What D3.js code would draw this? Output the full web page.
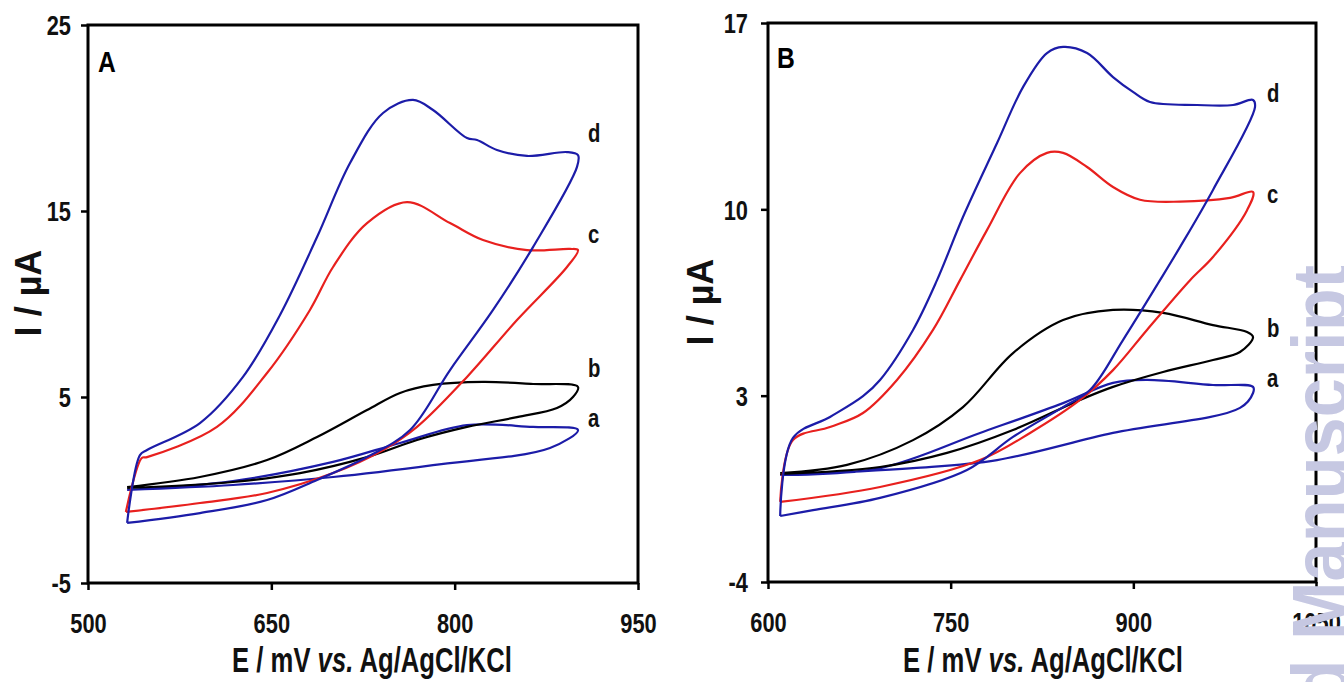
<!DOCTYPE html>
<html>
<head>
<meta charset="utf-8">
<script src="https://cdn.jsdelivr.net/npm/d3@7"></script>
<style>
  html, body { margin: 0; padding: 0; background: #fff; }
  svg { display: block; font-family: "Liberation Sans", Arial, Helvetica, sans-serif; }
</style>
</head>
<body>
<svg id="chart" width="1344" height="682"></svg>
<script>
// ---- Axis ticks (E in mV, I in µA) ----
const E_TICKS_A = [500, 650, 800, 950];
const I_TICKS_A = [-5, 5, 15, 25];
const E_TICKS_B = [600, 750, 900, 1050];
const I_TICKS_B = [-4, 3, 10, 17];

// ---- Cyclic voltammograms, panel A: [E (mV), I (µA)] around each closed loop ----
const CV_A_a = [[532,0.0],[618.6,0.48],[700.5,1.51],[755.3,2.53],[810.1,3.49],[864.1,3.39],[900.9,3.23],
  [878,2.26],[782.3,1.34],[700.5,0.70],[618.6,0.27],[532,0.0]];
const CV_A_b = [[532,0.16],[591.6,0.70],[646.5,1.61],[687.4,2.85],[728.3,4.30],[755.3,5.22],[782.3,5.65],
  [823.2,5.81],[864.1,5.70],[900.9,5.54],[896.8,5.0],[883.7,4.41],[851,3.92],[810.1,3.39],[769.2,2.69],
  [728.3,1.77],[673.5,0.91],[618.6,0.43],[532,0.11]];
const CV_A_c = [[531,-1.18],[544,1.72],[548.3,1.77],[605.5,3.39],[646.5,6.29],[681.6,9.68],[700.5,11.99],
  [728.3,14.35],[761,15.48],[796.2,14.35],[823.2,13.44],[859.2,12.9],[894.4,12.96],[900.9,12.9],
  [891.9,11.99],[851,9.14],[810.1,6.08],[769.2,3.39],[741.4,2.15],[700.5,0.91],[646.5,-0.16],
  [591.6,-0.70],[531,-1.18]];
const CV_A_d = [[532,-1.77],[542.5,1.88],[548.3,2.15],[591.6,3.60],[626.8,6.08],[657.1,9.41],[687.4,13.6],
  [714.4,17.58],[741.4,20.27],[765.9,20.97],[782.3,20.43],[810.1,18.92],[818.3,18.82],[834.6,18.28],
  [859.2,17.96],[891.9,18.17],[900.9,18.01],[900.1,17.37],[864.1,13.06],[831.4,9.68],[796.2,6.45],
  [763.5,3.23],[728.3,1.77],[687.4,0.54],[646.5,-0.54],[591.6,-1.24],[532,-1.77]];

// ---- Cyclic voltammograms, panel B ----
const CV_B_a = [[610,0.02],[692,0.28],[774.1,1.60],[842.3,2.72],[883.3,3.48],[911.2,3.59],[965.4,3.40],
  [998.3,3.33],[998.3,3.10],[987.6,2.54],[883.3,1.60],[788.1,0.58],[719.1,0.28],[610,0.02]];
const CV_B_b = [[610,0.09],[664.9,0.40],[719.1,1.33],[760.1,2.57],[801.2,4.60],[842.3,5.84],[883.3,6.22],
  [924.4,6.11],[965.4,5.65],[993.4,5.39],[998.3,5.20],[987.6,4.64],[965.4,4.34],[924.4,3.89],[883.3,3.33],
  [856.2,2.84],[801.2,1.71],[747,0.85],[692,0.32],[610,0.06]];
const CV_B_c = [[610,-0.99],[620.5,1.33],[650.9,1.82],[678,2.35],[705.9,3.59],[735.5,5.47],[757.7,7.34],
  [779.8,9.22],[806.9,11.36],[829.1,12.12],[842.3,12.12],[862,11.59],[883.3,10.84],[905.5,10.36],
  [938.3,10.29],[979.4,10.43],[998.3,10.65],[993.4,9.97],[965.4,8.21],[946.6,7.34],[911.2,5.47],
  [883.3,3.96],[856.2,2.84],[815.2,1.60],[774.1,0.58],[692,-0.43],[610,-0.99]];
const CV_B_d = [[610,-1.52],[620.5,1.41],[650.9,2.20],[678,2.98],[692,3.59],[719.1,5.47],[738.8,7.34],
  [760.1,9.71],[788.1,12.49],[809.4,14.59],[829.1,15.87],[842.3,16.10],[862,15.87],[883.3,14.97],
  [899.7,14.41],[913.7,14.03],[952.3,13.92],[981.9,13.92],[998.3,14.11],[999.9,13.84],[965.4,10.73],
  [938.3,8.58],[921.9,7.34],[891.5,5.09],[864.4,3.21],[842.3,2.57],[801.2,1.45],[763.4,0.21],
  [692,-0.84],[637,-1.30],[610,-1.52]];

const CURVE_NAMES = ["a", "b", "c", "d"];
const CURVE_COLORS = { a: "#1c1ca8", b: "#000000", c: "#e8201e", d: "#1c1ca8" };

const FONT_SQUEEZE = 0.78;   // narrow bold lettering
const svg = d3.select("#chart");

function drawPanel(p) {
  const x = d3.scaleLinear().domain(p.xDomain).range([p.left, p.right]);
  const y = d3.scaleLinear().domain(p.yDomain).range([p.bottom, p.top]);
  const g = svg.append("g");

  const line = d3.line()
    .x(d => x(d[0]))
    .y(d => y(d[1]))
    .curve(d3.curveCatmullRom.alpha(0.5));

  CURVE_NAMES.forEach(name => {
    g.append("path")
      .attr("d", line(p.curves[name]))
      .attr("fill", "none")
      .attr("stroke", CURVE_COLORS[name])
      .attr("stroke-width", 2.2)
      .attr("stroke-linejoin", "round");
  });

  // plot frame
  g.append("rect")
    .attr("x", p.left).attr("y", p.top)
    .attr("width", p.right - p.left).attr("height", p.bottom - p.top)
    .attr("fill", "none").attr("stroke", "#000").attr("stroke-width", 3);

  // x axis
  const xa = g.append("g")
    .attr("transform", `translate(0,${p.bottom})`)
    .call(d3.axisBottom(x).tickValues(p.xTicks).tickSize(7).tickSizeOuter(0).tickFormat(d => String(d)));
  xa.attr("font-size", null).attr("font-family", null);
  xa.select(".domain").remove();
  xa.selectAll(".tick line").attr("stroke", "#000").attr("stroke-width", 2.5);
  xa.selectAll(".tick text")
    .attr("y", 0).attr("dy", null)
    .attr("transform", `translate(0,50) scale(${FONT_SQUEEZE},1)`)
    .attr("font-size", 28).attr("font-weight", "bold").attr("fill", "#111");

  // y axis
  const ya = g.append("g")
    .attr("transform", `translate(${p.left},0)`)
    .call(d3.axisLeft(y).tickValues(p.yTicks).tickSize(7).tickSizeOuter(0).tickFormat(d => String(d)));
  ya.attr("font-size", null).attr("font-family", null);
  ya.select(".domain").remove();
  ya.selectAll(".tick line").attr("stroke", "#000").attr("stroke-width", 2.5);
  ya.selectAll(".tick text")
    .attr("x", 0).attr("dy", "0.35em")
    .attr("transform", `translate(${p.yLabelGap},0) scale(${FONT_SQUEEZE},1)`)
    .attr("font-size", 28).attr("font-weight", "bold").attr("fill", "#111");

  // panel letter
  g.append("text")
    .attr("transform", `translate(${p.letterPos[0]},${p.letterPos[1]}) scale(0.85,1)`)
    .attr("font-size", 29).attr("font-weight", "bold").text(p.letter);

  // curve labels next to the switching potential
  p.labels.forEach(l => {
    g.append("text")
      .attr("transform", `translate(${x(l.E)},${y(l.I)}) scale(${FONT_SQUEEZE},1)`)
      .attr("font-size", 26).attr("font-weight", "bold").attr("fill", "#111")
      .text(l.name);
  });

  // x title
  const xt = g.append("text")
    .attr("font-size", 35).attr("font-weight", "bold").attr("text-anchor", "middle").attr("fill", "#111");
  xt.append("tspan").text("E / mV ");
  xt.append("tspan").attr("font-style", "italic").text("vs.");
  xt.append("tspan").text(" Ag/AgCl/KCl");
  const w = xt.node().getComputedTextLength();
  xt.attr("transform", `translate(${p.xTitlePos[0]},${p.xTitlePos[1]}) scale(${p.xTitleWidth / w},1)`);

  // y title
  g.append("text")
    .attr("transform", `translate(${p.yTitlePos[0]},${p.yTitlePos[1]}) rotate(-90)`)
    .attr("font-size", 36).attr("font-weight", "bold").attr("text-anchor", "middle").attr("fill", "#111")
    .text("I / µA");
}

drawPanel({
  xDomain: [500, 950], yDomain: [-5, 25],
  left: 88, right: 638, top: 25, bottom: 583,
  xTicks: E_TICKS_A, yTicks: I_TICKS_A,
  curves: { a: CV_A_a, b: CV_A_b, c: CV_A_c, d: CV_A_d },
  labels: [
    { name: "d", E: 909, I: 18.7 },
    { name: "c", E: 909, I: 13.3 },
    { name: "b", E: 909, I: 6.1 },
    { name: "a", E: 909, I: 3.4 }
  ],
  letter: "A", letterPos: [98, 72],
  yLabelGap: -17,
  xTitlePos: [372, 672], xTitleWidth: 280,
  yTitlePos: [41, 293]
});

drawPanel({
  xDomain: [600, 1050], yDomain: [-4, 17],
  left: 768, right: 1316, top: 23, bottom: 582,
  xTicks: E_TICKS_B, yTicks: I_TICKS_B,
  curves: { a: CV_B_a, b: CV_B_b, c: CV_B_c, d: CV_B_d },
  labels: [
    { name: "d", E: 1009.8, I: 14.03 },
    { name: "c", E: 1009.8, I: 10.24 },
    { name: "b", E: 1009.8, I: 5.2 },
    { name: "a", E: 1009.8, I: 3.33 }
  ],
  letter: "B", letterPos: [777, 68],
  yLabelGap: -20,
  xTitlePos: [1043, 672], xTitleWidth: 280,
  yTitlePos: [713, 302]
});

// publisher stamp running up the right edge, squeezed along its reading direction
const stamp = svg.append("text")
  .attr("text-anchor", "end")
  .attr("font-size", 80).attr("font-weight", "bold")
  .attr("fill", "#c6c8e2");
stamp.append("tspan").text("Accepted ");
const stampWord = stamp.append("tspan").text("Manuscript");
const wordLen = stampWord.node().getComputedTextLength();
stamp.attr("transform", `translate(1348,265) rotate(-90) scale(${375 / wordLen},1)`);
</script>
</body>
</html>
